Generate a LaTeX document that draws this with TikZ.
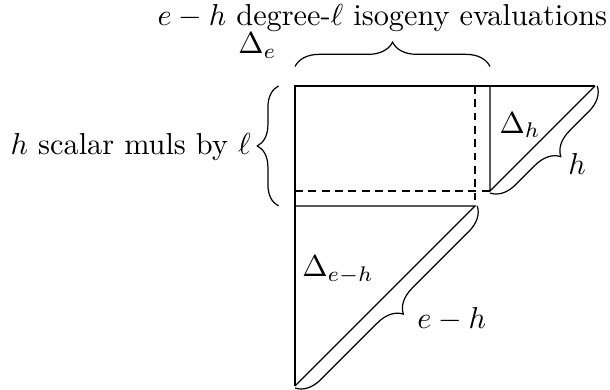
\documentclass[tikz,border=0pt]{standalone}
\usepackage{amsmath,amssymb}
\usetikzlibrary{decorations.pathreplacing, calc}

\begin{document}
\begin{tikzpicture}[
    x=4.95pt, y=4.95pt,
    split/.style={dash pattern=on 2.6pt off 1.8pt},
    brc/.style={decorate, decoration={brace, amplitude=#1}},
    brc/.default=8pt,
    lbl/.style={inner sep=0.5pt}
]
\useasboundingbox (-19.67,5.73) rectangle (21,-20.27);

% corners
\coordinate (tl) at (0,0);
\coordinate (tr) at (20,0);
\coordinate (bl) at (0,-20);
\coordinate (hx) at (13,0);
\coordinate (hy) at (13,-7);
\coordinate (ex) at (12,-8);
\coordinate (ey) at (0,-8);
\coordinate (dx) at (12,0);
\coordinate (dy) at (0,-7);

% outer triangle
\draw (bl) -- (tl) -- (tr);

% Delta_h
\draw (hx) -- (hy) -- (tr);

% Delta_{e-h}
\draw (ey) -- (ex) -- (bl);

% dashed split
\draw[split] (dx) -- (ex);
\draw[split] (dy) -- (hy);

% braces
\draw[brc] ($(tl)+(0,1.3)$) -- ($(hx)+(0,1.3)$);
\draw[brc=7pt] ($(ey)+(-1.1,0)$) -- ($(tl)+(-1.1,0)$);
\draw[brc] ($(tr)+(0.15,0)$) -- ($(hy)+(0,-0.15)$);
\draw[brc] ($(ex)+(0.15,0)$) -- ($(bl)+(0,-0.15)$);

% labels
\node[lbl, anchor=east] (evals) at (20.95,4.5) {$e-h$ degree-$\ell$ isogeny evaluations};
\node[lbl, anchor=west] (muls) at (-19.1,-4.07) {$h$ scalar muls by $\ell$};
\node[lbl] (de) at (-2.5,2.7) {$\Delta_e$};
\node[lbl] (dh) at (15,-2.6) {$\Delta_h$};
\node[lbl] (deh) at (2.87,-12.25) {$\Delta_{e-h}$};
\node[lbl] (hlen) at (18.8,-5.2) {$h$};
\node[lbl] (ehlen) at (10.45,-15.55) {$e-h$};

\end{tikzpicture}
\end{document}
